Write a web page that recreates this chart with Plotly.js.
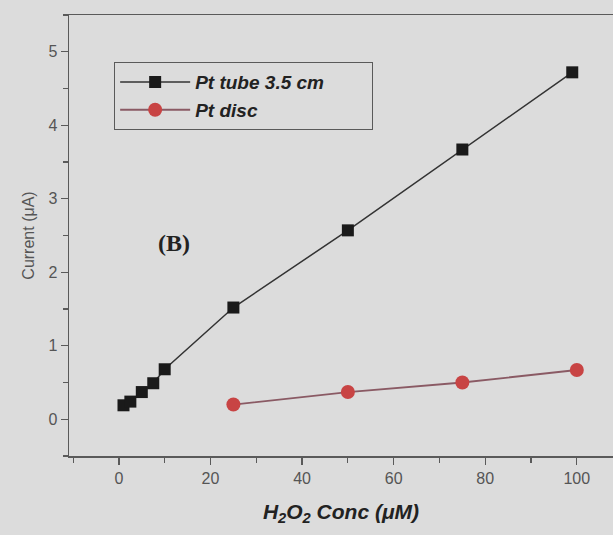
<!DOCTYPE html>
<html>
<head>
<meta charset="utf-8">
<script src="https://cdn.plot.ly/plotly-3.0.1.min.js"></script>
<style>html,body{margin:0;padding:0;background:#dcdcdc;}#chart{width:613px;height:535px;}</style>
</head>
<body>
<div id="chart"></div>
<script>
const tubeConc = [1, 2.5, 5, 7.5, 10, 25, 50, 75, 99];
const tubeCurrent = [0.19, 0.24, 0.37, 0.49, 0.68, 1.52, 2.57, 3.67, 4.72];
const discConc = [25, 50, 75, 100];
const discCurrent = [0.20, 0.37, 0.50, 0.67];
const xTicks = [0, 20, 40, 60, 80, 100];
const yTicks = [0, 1, 2, 3, 4, 5];

const axisColor = '#5a5a5a';
const tickFont = {family: 'Liberation Sans, Arial, sans-serif', size: 16, color: '#555'};

const traces = [
  {
    x: tubeConc, y: tubeCurrent, name: 'Pt tube 3.5 cm' + '\u00a0'.repeat(8), mode: 'lines+markers',
    line: {color: '#333', width: 1.5},
    marker: {symbol: 'square', size: 12, color: '#1a1a1a'}
  },
  {
    x: discConc, y: discCurrent, name: 'Pt disc', mode: 'lines+markers',
    line: {color: '#8a5a64', width: 1.8},
    marker: {symbol: 'circle', size: 14, color: '#c84444'}
  }
];

const layout = {
  width: 613, height: 535,
  paper_bgcolor: '#dcdcdc', plot_bgcolor: '#dcdcdc',
  margin: {l: 69, r: 0, t: 15, b: 79},
  showlegend: true,
  legend: {
    x: 0.083, y: 0.893, xanchor: 'left', yanchor: 'top',
    bgcolor: 'rgba(0,0,0,0)', bordercolor: axisColor, borderwidth: 1,
    itemwidth: 70,
    font: {family: 'Liberation Sans, Arial, sans-serif', size: 19, color: '#222', style: 'italic', weight: 'bold'},
    tracegroupgap: 0
  },
  xaxis: {
    range: [-10.9, 107.9],
    tickvals: xTicks, ticktext: xTicks.map(String),
    ticks: 'outside', ticklen: 7, tickwidth: 1.2, tickcolor: axisColor,
    minor: {dtick: 10, tick0: 0, ticks: 'outside', ticklen: 5, tickcolor: axisColor},
    showgrid: false, zeroline: false,
    showline: true, linecolor: axisColor, linewidth: 1.5, mirror: true,
    tickfont: tickFont,
    title: {text: '<i><b>H<sub>2</sub>O<sub>2</sub> Conc (μM)</b></i>', standoff: 18,
            font: {family: 'Liberation Sans, Arial, sans-serif', size: 21, color: '#222'}}
  },
  yaxis: {
    range: [-0.5, 5.5],
    tickvals: yTicks, ticktext: yTicks.map(String),
    ticks: 'outside', ticklen: 7, tickwidth: 1.2, tickcolor: axisColor,
    minor: {dtick: 0.5, tick0: 0, ticks: 'outside', ticklen: 5, tickcolor: axisColor},
    showgrid: false, zeroline: false,
    showline: true, linecolor: axisColor, linewidth: 1.5, mirror: false,
    tickfont: tickFont,
    title: {text: 'Current (μA)', standoff: 10,
            font: {family: 'Liberation Sans, Arial, sans-serif', size: 16, color: '#555'}}
  },
  annotations: [
    {text: '<b>(B)</b>', xref: 'x', yref: 'y', x: 12, y: 2.4, showarrow: false,
     font: {family: 'Liberation Serif, Times New Roman, serif', size: 24, color: '#222'}}
  ]
};

Plotly.newPlot('chart', traces, layout, {displayModeBar: false, staticPlot: true});
</script>
</body>
</html>
